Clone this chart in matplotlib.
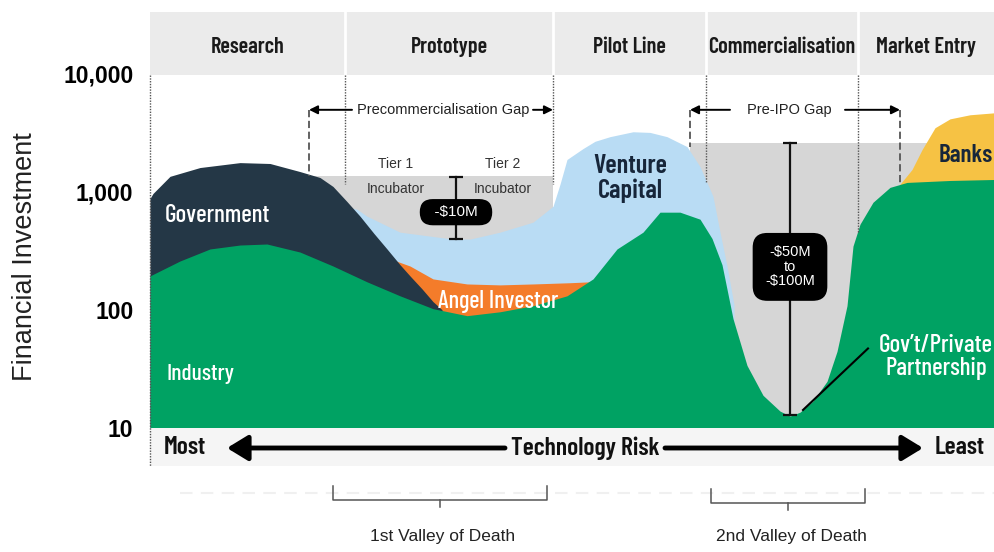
import matplotlib.pyplot as plt
from matplotlib import font_manager
from matplotlib.lines import Line2D
from matplotlib.patches import Rectangle

names = {f.name for f in font_manager.fontManager.ttflist}
CONDENSED = 'Barlow Condensed' if 'Barlow Condensed' in names else 'DejaVu Sans'
SANS = ['Liberation Sans', 'DejaVu Sans']

# ---- data (x = position along the development path, y = investment) ----
stage_names = ["Research", "Prototype", "Pilot Line", "Commercialisation", "Market Entry"]
stage_edges = [0, 195, 403, 556, 708, 844]
y_ticks = [10, 100, 1000, 10000]
y_tick_labels = ["10", "100", "1,000", "10,000"]

government_x = [0, 3, 20, 50, 90, 120, 150, 170, 183, 197, 210, 224, 237, 250, 260, 272, 283, 292]
government_y = [870, 960, 1340, 1590, 1750, 1720, 1470, 1310, 1100, 820, 617, 440, 326, 240, 193, 150, 117, 100]

industry_x = [0, 30, 60, 90, 117, 150, 183, 217, 250, 283, 317, 350, 383, 417, 443, 467, 493, 510,
              530, 550, 562, 572, 583, 597, 613, 630, 640, 650, 663, 677, 687, 697, 703, 710, 723,
              740, 757, 800, 844]
industry_y = [193, 258, 326, 352, 359, 307, 234, 172, 131, 102, 89, 96, 108, 131, 182, 326, 452, 667,
              667, 582, 400, 240, 84, 33.8, 18.9, 13.9, 12.6, 13.6, 16.9, 24.8, 44.4, 108, 345, 528, 809,
              1081, 1190, 1236, 1260]

venture_x = [180, 207, 217, 250, 303, 320, 350, 383, 403, 410, 417, 433, 445, 460, 483, 500, 517,
             537, 550, 563, 570, 577, 584]
venture_y = [800, 706, 617, 452, 395, 395, 452, 549, 748, 1150, 1860, 2300, 2650, 2900, 3190, 3150,
             2900, 2390, 1620, 908, 452, 234, 110]

angel_x = [245, 260, 283, 317, 350, 383, 420, 440, 450]
angel_y = [260, 234, 182, 165, 162, 165, 169, 172, 140]

banks_x = [750, 762, 772, 785, 800, 820, 844]
banks_y = [1150, 1530, 2250, 3450, 4100, 4440, 4610]

gap_spans = [(159, 403), (540, 844)]
gap_tops = [1360, 2580]

fig = plt.figure(figsize=(9.94, 5.52), dpi=100)
ax = fig.add_axes([150 / 994, 1 - 428 / 552, 844 / 994, 416 / 552])
ax.set_yscale('log')
top = 10 ** 4.516
ax.set_ylim(10, top)
ax.set_xlim(0, 844)
for s in ax.spines.values():
    s.set_visible(False)
ax.set_xticks([])
ax.set_yticks(y_ticks, y_tick_labels)
ax.minorticks_off()
ax.tick_params(axis='y', length=0, pad=12)
for lab in ax.get_yticklabels():
    lab.set_fontsize(16.5)
    lab.set_fontweight('bold')
    lab.set_family(SANS)

# header band
ax.axhspan(9600, top, color='#ebebeb', lw=0, zorder=0)
for i, name in enumerate(stage_names):
    xc = (stage_edges[i] + stage_edges[i + 1]) / 2
    ax.text(xc, 16600, name, ha='center', va='center', family=CONDENSED, weight='semibold',
            fontsize=16, color='#1a1a1a')
for e in stage_edges[1:-1]:
    ax.plot([e, e], [9600, top], color='white', lw=2, zorder=1)

# grey funding gaps
for (x0, x1), t in zip(gap_spans, gap_tops):
    ax.fill_between([x0, x1], 10, t, color='#d6d6d6', lw=0, zorder=1)

# funding sources
ax.fill_between(banks_x, 10, banks_y, color='#f6c244', lw=0, zorder=2)
ax.fill_between(venture_x, 10, venture_y, color='#b9dcf4', lw=0, zorder=3)
ax.fill_between(angel_x, 10, angel_y, color='#f47c2a', lw=0, zorder=4)
ax.fill_between(government_x, 10, government_y, color='#243746', lw=0, zorder=5)
ax.fill_between(industry_x, 10, industry_y, color='#00a263', lw=0, zorder=6)

# stage dividers (dotted) and gap markers (dashed)
for e, bottom in zip(stage_edges[1:-1], [1150, 1150, 1190, 450]):
    ax.plot([e, e], [9600, bottom], color='#555555', lw=1, ls=(0, (1, 1)), zorder=7)
for x, bottom in [(159, 1360), (540, 2390), (750, 1150)]:
    ax.plot([x, x], [4890, bottom], color='#555555', lw=1.3, ls=(0, (4, 2)), zorder=7)

arrow = dict(arrowstyle='-|>,head_length=0.5,head_width=0.25', color='black', lw=1.4,
             shrinkA=0, shrinkB=0)
for x_from, x_to in [(202, 159), (383, 403), (580, 540), (695, 750)]:
    ax.annotate('', xy=(x_to, 4890), xytext=(x_from, 4890), arrowprops=arrow, zorder=8)
ax.text(293, 4890, "Precommercialisation Gap", ha='center', va='center', fontsize=10.5,
        color='#222222', family=SANS)
ax.text(639, 4890, "Pre-IPO Gap", ha='center', va='center', fontsize=10.5, color='#222222',
        family=SANS)

# incubator tiers
for x, tier in [(246, "Tier 1"), (353, "Tier 2")]:
    ax.text(x, 1720, tier, ha='center', va='center', fontsize=10, color='#333333', family=SANS)
    ax.text(x, 1040, "Incubator", ha='center', va='center', fontsize=10, color='#333333',
            family=SANS, zorder=8)

# gap size bars
for x, lo, hi in [(306, 395, 1312), (640, 12.9, 2580)]:
    ax.plot([x, x], [lo, hi], color='#111111', lw=1.6, zorder=9)
    ax.plot([x, x], [lo, hi], ls='none', marker='_', ms=10, mew=1.6, color='#111111', zorder=9)
ax.text(306, 667, r"  -\$10M  ", ha='center', va='center', fontsize=11, color='white', family=SANS,
        zorder=10, bbox=dict(boxstyle='round,pad=0.4,rounding_size=0.85', fc='black', ec='none'))
ax.text(640, 230, "-\\$50M\nto\n-\\$100M", ha='center', va='center', fontsize=10.5, color='white',
        family=SANS, linespacing=1.05, zorder=10,
        bbox=dict(boxstyle='round,pad=0.85,rounding_size=1.0', fc='black', ec='none'))
ax.plot([653, 718], [14.2, 47], color='black', lw=1.5, zorder=9)

# area labels
label_kw = dict(family=CONDENSED, weight='medium', zorder=10)
ax.text(15, 630, "Government", ha='left', va='center', fontsize=18, color='white', **label_kw)
ax.text(17, 28.4, "Industry", ha='left', va='center', fontsize=17, color='white', **label_kw)
ax.text(348, 117, "Angel Investor", ha='center', va='center', fontsize=17.5, color='white',
        **label_kw)
ax.text(480, 1290, "Venture\nCapital", ha='center', va='center', fontsize=19, color='#17263a',
        linespacing=1.0, family=CONDENSED, weight='semibold', zorder=10)
ax.text(789, 2000, "Banks", ha='left', va='center', fontsize=18, color='#17263a',
        family=CONDENSED, weight='semibold', zorder=10)
ax.text(843, 40, "Gov\u2019t/Private\nPartnership", ha='right', va='center', multialignment='center',
        fontsize=18, color='white', linespacing=1.0, **label_kw)

# technology risk band below the plot
fx = lambda px: px / 994
fy = lambda py: 1 - py / 552
fig.patches.append(Rectangle((fx(150), fy(466)), fx(844), 38 / 552, transform=fig.transFigure,
                             color='#f5f5f5', lw=0, zorder=0))
fig.add_artist(Line2D([fx(150), fx(150)], [fy(75), fy(466)], color='#555555', lw=1,
                      ls=(0, (1, 1))))
risk_kw = dict(va='center', family=CONDENSED, weight='semibold', fontsize=18.5, color='#111111')
fig.text(fx(164), fy(448), "Most", ha='left', **risk_kw)
fig.text(fx(585), fy(448), "Technology Risk", ha='center', **risk_kw)
fig.text(fx(935), fy(448), "Least", ha='left', **risk_kw)
big = dict(arrowstyle='-|>,head_length=0.9,head_width=0.55', color='black', lw=3.5,
           shrinkA=0, shrinkB=0, mutation_scale=14)
fig.add_artist(plt.annotate('', xy=(fx(227), fy(448)), xytext=(fx(505), fy(448)),
                            xycoords='figure fraction', arrowprops=big))
fig.add_artist(plt.annotate('', xy=(fx(923), fy(448)), xytext=(fx(665), fy(448)),
                            xycoords='figure fraction', arrowprops=big))

# valley of death brackets
fig.add_artist(Line2D([fx(180), fx(994)], [fy(493), fy(493)], color='#f0f0f0', lw=1.5,
                      ls=(0, (6, 4))))
for x0, x1, yb, label in [(333, 547, 500, "1st Valley of Death"), (711, 865, 503, "2nd Valley of Death")]:
    fig.add_artist(Line2D([fx(x0), fx(x0), fx(x1), fx(x1)],
                          [fy(yb - 14), fy(yb), fy(yb), fy(yb - 14)], color='#555555', lw=1.1))
    xm = (x0 + x1) / 2
    fig.add_artist(Line2D([fx(xm), fx(xm)], [fy(yb), fy(yb + 7)], color='#555555', lw=1.1))
    fig.text(fx(xm + 3), fy(537), label, ha='center', va='center', fontsize=12.5,
             color='#222222', family=SANS)

fig.text(fx(25), fy(257), "Financial Investment", rotation=90, ha='center', va='center',
         fontsize=19.5, color='#222222', family=SANS)

fig.savefig('out.png', dpi=100)
